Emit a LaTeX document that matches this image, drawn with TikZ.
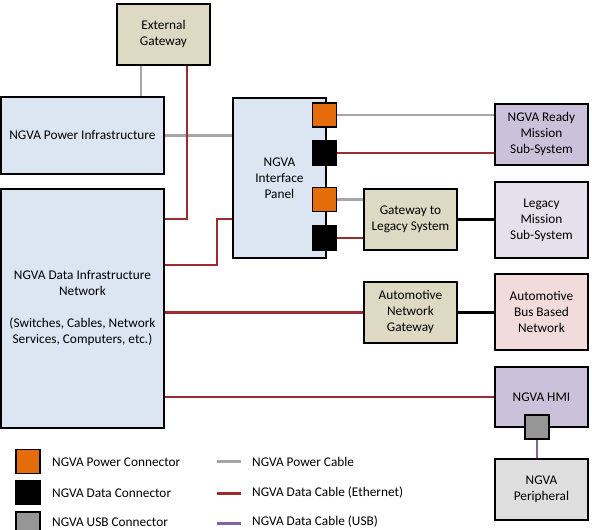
\documentclass[tikz,border=0pt]{standalone}
\usepackage{fontspec}
\setmainfont{Carlito}
\definecolor{bluef}{HTML}{DCE6F2}
\definecolor{tanf}{HTML}{DDD9C3}
\definecolor{purf}{HTML}{CCC1DA}
\definecolor{legf}{HTML}{E6E0EC}
\definecolor{pinkf}{HTML}{F2DCDB}
\definecolor{perf}{HTML}{DEDEDE}
\definecolor{usbf}{HTML}{969696}
\definecolor{orangef}{HTML}{E46C0A}
\definecolor{redc}{HTML}{9B2D30}
\definecolor{grayc}{HTML}{A6A6A6}
\definecolor{purc}{HTML}{8064A2}
\begin{document}
\begin{tikzpicture}[x=1pt,y=-1pt,
  box/.style={draw=black,line width=1.9pt,anchor=north west,align=center,inner sep=0pt,
    font=\fontsize{13.3}{16}\selectfont},
  conn/.style={draw=black,line width=1.6pt,minimum width=24pt,minimum height=24pt,inner sep=0pt},
  pwr/.style={grayc,line width=2.5pt},
  eth/.style={redc,line width=2.5pt},
  usb/.style={purc,line width=2.5pt},
  blk/.style={black,line width=2.5pt},
  lab/.style={anchor=west,inner sep=0pt,font=\fontsize{13.3}{16}\selectfont}]
\useasboundingbox (0,0) rectangle (592,530);
% cables
\coordinate (j1) at (0,219);
\coordinate (j2) at (217,265);
% boxes
\node[box,fill=tanf,minimum width=93pt,minimum height=61pt] (extgw) at (116,3) {External\\Gateway};
\node[box,fill=bluef,minimum width=163pt,minimum height=77pt] (pinfra) at (0,96) {NGVA Power Infrastructure};
\node[box,fill=bluef,minimum width=163pt,minimum height=239pt] (dinfra) at (0,188) {NGVA Data Infrastructure\\Network\\[16pt](Switches, Cables, Network\\Services, Computers, etc.)};
\node[box,fill=bluef,minimum width=93pt,minimum height=160pt] (panel) at (232,97) {NGVA\\Interface\\Panel};
\node[box,fill=purf,minimum width=93pt,minimum height=61pt] (ready) at (494,103) {NGVA Ready\\Mission\\Sub-System};
\node[box,fill=legf,minimum width=93pt,minimum height=76pt] (legacy) at (494,181) {Legacy\\Mission\\Sub-System};
\node[box,fill=tanf,minimum width=93pt,minimum height=61pt] (gwl) at (363,188) {Gateway to\\Legacy System};
\node[box,fill=tanf,minimum width=93pt,minimum height=61pt] (autogw) at (363,281) {Automotive\\Network\\Gateway};
\node[box,fill=pinkf,minimum width=93pt,minimum height=76pt] (autobus) at (494,273) {Automotive\\Bus Based\\Network};
\node[box,fill=purf,minimum width=93pt,minimum height=60pt] (hmi) at (494,366) {NGVA HMI};
\node[box,fill=perf,minimum width=93pt,minimum height=61pt] (periph) at (494,458) {NGVA\\Peripheral};
% connectors on panel
\node[conn,fill=orangef] (o1) at (324.5,115) {};
\node[conn,fill=black] (d1) at (324.5,153) {};
\node[conn,fill=orangef] (o2) at (324.5,199.5) {};
\node[conn,fill=black] (d2) at (324.5,238) {};
\node[conn,fill=usbf] (u1) at (537,427) {};
\draw[pwr] ([xshift=-22.5pt]extgw.south) -- ([xshift=-22.5pt]extgw.south |- pinfra.north);
\draw[pwr] (pinfra.east) -- (panel.west |- pinfra.east);
\draw[eth] ([xshift=23.5pt]extgw.south) |- (dinfra.east |- j1);
\draw[eth] (dinfra.east |- j2) -- (j2) |- (panel.west |- j1);
\draw[pwr] (o1.east) -- (ready.west |- o1.east);
\draw[eth] (d1.east) -- (ready.west |- d1.east);
\draw[pwr] (o2.east) -- (gwl.west |- o2.east);
\draw[eth] (d2.east) -- (gwl.west |- d2.east);
\draw[blk] (gwl.east) -- (legacy.west |- gwl.east);
\draw[eth] (dinfra.east |- autogw.west) -- (autogw.west);
\draw[blk] (autogw.east) -- (autobus.west |- autogw.east);
\draw[eth] (dinfra.east |- hmi.west) -- (hmi.west);
\draw[usb] (u1.south) -- (u1.south |- periph.north);
% legend
\node[conn,fill=orangef] (lo) at (28,461.5) {};
\node[conn,fill=black] (ld) at (28,492.5) {};
\node[conn,fill=usbf] (lu) at (28,524) {};
\node[lab] (tlo) at (52,462) {NGVA Power Connector};
\node[lab] (tld) at (52,493) {NGVA Data Connector};
\node[lab] (tlu) at (52,522) {NGVA USB Connector};
\coordinate (lp1) at (217,461); \coordinate (lp2) at (241,461);
\coordinate (le1) at (217,493); \coordinate (le2) at (241,493);
\coordinate (lu1) at (217,523); \coordinate (lu2) at (241,523);
\draw[pwr,line width=3pt] (lp1) -- (lp2);
\draw[eth,line width=3pt] (le1) -- (le2);
\draw[usb,line width=3pt] (lu1) -- (lu2);
\node[lab] (tlp) at (252,462) {NGVA Power Cable};
\node[lab] (tle) at (252,493) {NGVA Data Cable (Ethernet)};
\node[lab] (tlc) at (252,522) {NGVA Data Cable (USB)};
\end{tikzpicture}
\end{document}
